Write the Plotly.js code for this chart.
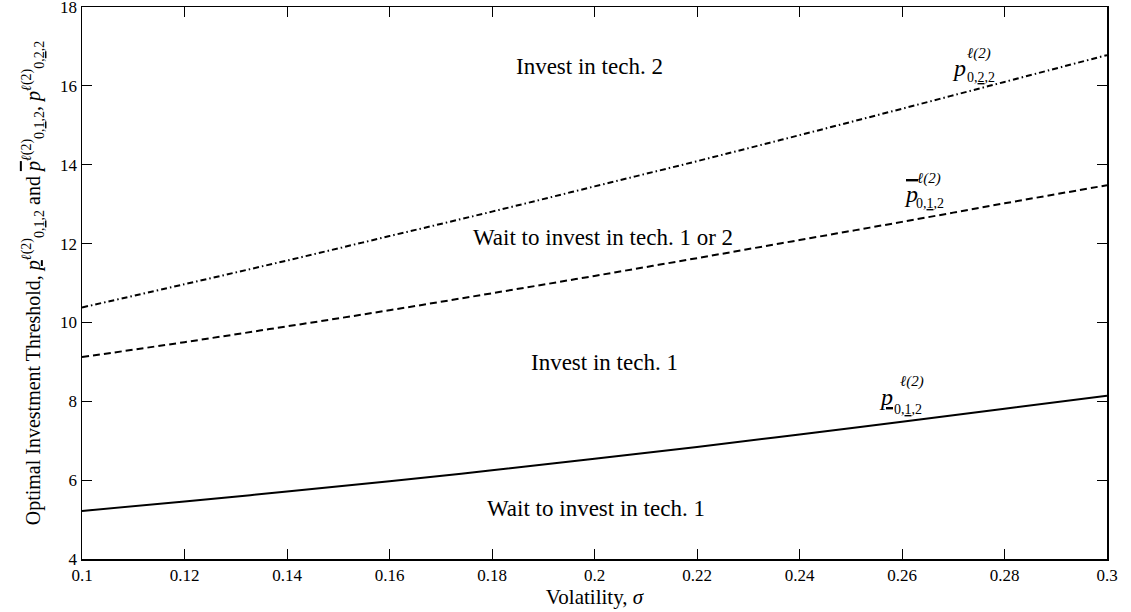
<!DOCTYPE html>
<html>
<head>
<meta charset="utf-8">
<script src="https://cdn.plot.ly/plotly-3.0.1.min.js"></script>
<style>html,body{margin:0;padding:0;background:#fff;}#chart{width:1131px;height:612px;}</style>
</head>
<body>
<div id="chart"></div>
<script>
// ---- data ----
const sigma = [0.10, 0.12, 0.14, 0.16, 0.18, 0.20, 0.22, 0.24, 0.26, 0.28, 0.30];
const pLower012 = [5.22, 5.46, 5.71, 5.97, 6.25, 6.54, 6.84, 7.16, 7.48, 7.81, 8.14];
const pUpper012 = [9.12, 9.50, 9.90, 10.31, 10.74, 11.18, 11.63, 12.09, 12.55, 13.02, 13.48];
const p022 = [10.38, 10.97, 11.57, 12.19, 12.81, 13.45, 14.09, 14.75, 15.42, 16.10, 16.78];

const xTickVals = [0.10, 0.12, 0.14, 0.16, 0.18, 0.20, 0.22, 0.24, 0.26, 0.28, 0.30];
const xTickText = ['0.1', '0.12', '0.14', '0.16', '0.18', '0.2', '0.22', '0.24', '0.26', '0.28', '0.3'];
const yTickVals = [4, 6, 8, 10, 12, 14, 16, 18];

const regionText = ['Invest in tech. 2', 'Wait to invest in tech. 1 or 2', 'Invest in tech. 1', 'Wait to invest in tech. 1'];
const regionX = [0.199, 0.2017, 0.202, 0.2003];
const regionY = [16.48, 12.16, 8.98, 5.29];

// curve labels: base symbol, superscript, subscript
const labelBase = ['<i>p</i>', '<span style="text-decoration:overline"><i>p</i></span>', '<u><i>p</i></u>'];
const labelSup = ['ℓ(2)', 'ℓ(2)', 'ℓ(2)'];
const labelSub = ['0,<u>2</u>,2', '0,<u>1</u>,2', '0,<u>1</u>,2'];
const baseX = [0.2711, 0.2618, 0.2569], baseY = [16.45, 13.27, 8.11];
const supX = [0.2723, 0.2625, 0.2592], supY = [16.83, 13.65, 8.50];
const subX = [0.2723, 0.2623, 0.2581], subY = [16.22, 13.02, 7.78];

const SERIF = '"Liberation Serif", "DejaVu Serif", serif';

const traces = [
  {x: sigma, y: pLower012, mode: 'lines', line: {color: '#000', width: 2, shape: 'spline'}, hoverinfo: 'skip'},
  {x: sigma, y: pUpper012, mode: 'lines', line: {color: '#000', width: 2, dash: '7px,4px', shape: 'spline'}, hoverinfo: 'skip'},
  {x: sigma, y: p022, mode: 'lines', line: {color: '#000', width: 2, dash: '6px,3px,1.5px,3px', shape: 'spline'}, hoverinfo: 'skip'}
];

const annotations = [];
regionText.forEach((t, i) => annotations.push({
  x: regionX[i], y: regionY[i], xref: 'x', yref: 'y', text: t, showarrow: false,
  font: {family: SERIF, size: 23, color: '#000'}, xanchor: 'center', yanchor: 'middle'
}));
for (let i = 0; i < labelBase.length; i++) {
  annotations.push({x: baseX[i], y: baseY[i], xref: 'x', yref: 'y', text: labelBase[i], showarrow: false,
    font: {family: SERIF, size: 24, color: '#000'}, xanchor: 'center', yanchor: 'middle'});
  annotations.push({x: supX[i], y: supY[i], xref: 'x', yref: 'y', text: '<i>' + labelSup[i] + '</i>', showarrow: false,
    font: {family: SERIF, size: 15, color: '#000'}, xanchor: 'left', yanchor: 'middle'});
  annotations.push({x: subX[i], y: subY[i], xref: 'x', yref: 'y', text: labelSub[i], showarrow: false,
    font: {family: SERIF, size: 14, color: '#000'}, xanchor: 'left', yanchor: 'middle'});
}

const yTitle = 'Optimal Investment Threshold, <u><i>p</i></u><sup><i>ℓ</i>(2)</sup><sub>0,<u>1</u>,2</sub> and ' +
  '<span style="text-decoration:overline"><i>p</i></span><sup><i>ℓ</i>(2)</sup><sub>0,<u>1</u>,2</sub>, ' +
  '<i>p</i><sup><i>ℓ</i>(2)</sup><sub>0,<u>2</u>,2</sub>';

const layout = {
  width: 1131, height: 612,
  margin: {l: 82, r: 24, t: 7, b: 53},
  paper_bgcolor: '#fff', plot_bgcolor: '#fff',
  showlegend: false,
  font: {family: SERIF, color: '#000'},
  xaxis: {
    range: [0.1, 0.3], tickmode: 'array', tickvals: xTickVals, ticktext: xTickText,
    ticks: 'inside', ticklen: 10, tickwidth: 1, tickcolor: '#000',
    showline: true, linecolor: '#000', linewidth: 1.5, mirror: 'ticks',
    showgrid: false, zeroline: false, ticklabeloverflow: 'allow',
    tickfont: {family: SERIF, size: 17, color: '#000'},
    title: {text: 'Volatility, <i>σ</i>', font: {family: SERIF, size: 21, color: '#000'}, standoff: 0}
  },
  yaxis: {
    range: [4, 18], tickmode: 'array', tickvals: yTickVals,
    ticks: 'inside', ticklen: 10, tickwidth: 1, tickcolor: '#000',
    showline: true, linecolor: '#000', linewidth: 1.5, mirror: 'ticks',
    showgrid: false, zeroline: false, ticklabeloverflow: 'allow',
    tickfont: {family: SERIF, size: 17, color: '#000'},
    title: {text: yTitle, font: {family: SERIF, size: 20, color: '#000'}, standoff: 14}
  },
  annotations: annotations
};

Plotly.newPlot('chart', traces, layout, {displayModeBar: false, staticPlot: true});
</script>
</body>
</html>
